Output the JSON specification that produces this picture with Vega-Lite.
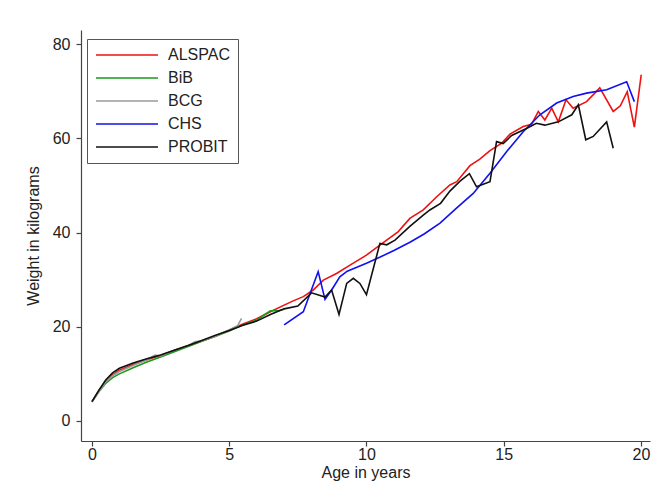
{
  "$schema": "https://vega.github.io/schema/vega-lite/v6.json",
  "width": 569,
  "height": 411,
  "autosize": {"type": "none"},
  "padding": {"left": 81, "top": 30, "right": 2, "bottom": 47},
  "background": "white",
  "config": {
    "view": {"stroke": null},
    "font": "Liberation Sans",
    "axis": {"grid": false, "domainColor": "#444", "tickColor": "#444", "labelColor": "#222", "titleColor": "#222", "labelFontSize": 16, "titleFontSize": 16, "titleFontWeight": "normal", "tickSize": 5, "domainWidth": 1.2, "tickWidth": 1.2}
  },
  "data": {"values": [
    {"s":"ALSPAC","age":0,"w":4.1},{"s":"ALSPAC","age":0.25,"w":6.5},{"s":"ALSPAC","age":0.5,"w":8.5},{"s":"ALSPAC","age":0.75,"w":9.8},{"s":"ALSPAC","age":1,"w":10.8},{"s":"ALSPAC","age":1.5,"w":12.0},{"s":"ALSPAC","age":2,"w":13.0},{"s":"ALSPAC","age":2.5,"w":13.9},{"s":"ALSPAC","age":3,"w":15.0},{"s":"ALSPAC","age":3.5,"w":15.9},{"s":"ALSPAC","age":4,"w":17.0},{"s":"ALSPAC","age":4.5,"w":18.0},{"s":"ALSPAC","age":5,"w":19.3},{"s":"ALSPAC","age":5.5,"w":20.6},{"s":"ALSPAC","age":6,"w":21.7},{"s":"ALSPAC","age":6.5,"w":23.2},{"s":"ALSPAC","age":7,"w":24.6},{"s":"ALSPAC","age":7.33,"w":25.5},{"s":"ALSPAC","age":7.7,"w":26.4},{"s":"ALSPAC","age":8.06,"w":27.8},{"s":"ALSPAC","age":8.43,"w":29.9},{"s":"ALSPAC","age":8.91,"w":31.3},{"s":"ALSPAC","age":9.4,"w":33.1},{"s":"ALSPAC","age":10,"w":35.2},{"s":"ALSPAC","age":10.5,"w":37.4},{"s":"ALSPAC","age":11.16,"w":40.2},{"s":"ALSPAC","age":11.58,"w":43.0},{"s":"ALSPAC","age":12.07,"w":44.8},{"s":"ALSPAC","age":12.56,"w":47.6},{"s":"ALSPAC","age":13.04,"w":50.1},{"s":"ALSPAC","age":13.29,"w":50.8},{"s":"ALSPAC","age":13.77,"w":54.2},{"s":"ALSPAC","age":14.13,"w":55.6},{"s":"ALSPAC","age":14.5,"w":57.4},{"s":"ALSPAC","age":14.93,"w":59.0},{"s":"ALSPAC","age":15.23,"w":60.9},{"s":"ALSPAC","age":15.71,"w":62.5},{"s":"ALSPAC","age":16.02,"w":63.0},{"s":"ALSPAC","age":16.26,"w":65.7},{"s":"ALSPAC","age":16.5,"w":63.9},{"s":"ALSPAC","age":16.75,"w":66.4},{"s":"ALSPAC","age":16.99,"w":63.5},{"s":"ALSPAC","age":17.27,"w":68.2},{"s":"ALSPAC","age":17.53,"w":66.4},{"s":"ALSPAC","age":18.02,"w":67.8},{"s":"ALSPAC","age":18.5,"w":70.7},{"s":"ALSPAC","age":18.99,"w":65.7},{"s":"ALSPAC","age":19.25,"w":66.9},{"s":"ALSPAC","age":19.5,"w":69.9},{"s":"ALSPAC","age":19.76,"w":62.4},{"s":"ALSPAC","age":20.01,"w":73.5},
    {"s":"BiB","age":0,"w":4.1},{"s":"BiB","age":0.25,"w":6.2},{"s":"BiB","age":0.5,"w":8.0},{"s":"BiB","age":0.75,"w":9.2},{"s":"BiB","age":1,"w":10.0},{"s":"BiB","age":1.5,"w":11.3},{"s":"BiB","age":2,"w":12.5},{"s":"BiB","age":2.5,"w":13.6},{"s":"BiB","age":3,"w":14.7},{"s":"BiB","age":3.5,"w":15.8},{"s":"BiB","age":4,"w":16.9},{"s":"BiB","age":4.5,"w":18.0},{"s":"BiB","age":5,"w":19.1},{"s":"BiB","age":5.5,"w":20.4},{"s":"BiB","age":6,"w":21.4},{"s":"BiB","age":6.3,"w":22.6},{"s":"BiB","age":6.5,"w":23.4},{"s":"BiB","age":6.8,"w":23.4},{"s":"BiB","age":7.0,"w":23.7},
    {"s":"BCG","age":0,"w":4.0},{"s":"BCG","age":0.25,"w":6.2},{"s":"BCG","age":0.5,"w":8.3},{"s":"BCG","age":0.75,"w":9.6},{"s":"BCG","age":1,"w":10.5},{"s":"BCG","age":1.5,"w":11.8},{"s":"BCG","age":2,"w":13.0},{"s":"BCG","age":2.3,"w":14.0},{"s":"BCG","age":2.5,"w":13.8},{"s":"BCG","age":3,"w":15.0},{"s":"BCG","age":3.5,"w":16.0},{"s":"BCG","age":3.75,"w":16.8},{"s":"BCG","age":4,"w":17.0},{"s":"BCG","age":4.5,"w":18.0},{"s":"BCG","age":5,"w":19.3},{"s":"BCG","age":5.3,"w":20.2},{"s":"BCG","age":5.45,"w":21.8},
    {"s":"CHS","age":7.0,"w":20.4},{"s":"CHS","age":7.7,"w":23.2},{"s":"CHS","age":8.24,"w":31.7},{"s":"CHS","age":8.49,"w":25.8},{"s":"CHS","age":8.73,"w":27.8},{"s":"CHS","age":9.03,"w":30.6},{"s":"CHS","age":9.3,"w":31.8},{"s":"CHS","age":10.0,"w":33.5},{"s":"CHS","age":10.5,"w":34.8},{"s":"CHS","age":11.0,"w":36.2},{"s":"CHS","age":11.6,"w":38.0},{"s":"CHS","age":12.1,"w":39.7},{"s":"CHS","age":12.68,"w":42.0},{"s":"CHS","age":13.28,"w":45.2},{"s":"CHS","age":13.89,"w":48.3},{"s":"CHS","age":14.5,"w":52.6},{"s":"CHS","age":15.11,"w":57.2},{"s":"CHS","age":15.71,"w":61.4},{"s":"CHS","age":16.32,"w":65.0},{"s":"CHS","age":16.93,"w":67.5},{"s":"CHS","age":17.53,"w":68.9},{"s":"CHS","age":18.02,"w":69.6},{"s":"CHS","age":18.75,"w":70.3},{"s":"CHS","age":19.48,"w":72.0},{"s":"CHS","age":19.76,"w":67.8},
    {"s":"PROBIT","age":0,"w":4.1},{"s":"PROBIT","age":0.25,"w":6.5},{"s":"PROBIT","age":0.5,"w":8.7},{"s":"PROBIT","age":0.75,"w":10.2},{"s":"PROBIT","age":1,"w":11.2},{"s":"PROBIT","age":1.5,"w":12.3},{"s":"PROBIT","age":2,"w":13.2},{"s":"PROBIT","age":2.5,"w":14.0},{"s":"PROBIT","age":3,"w":15.0},{"s":"PROBIT","age":3.5,"w":16.0},{"s":"PROBIT","age":4,"w":17.1},{"s":"PROBIT","age":4.5,"w":18.2},{"s":"PROBIT","age":5,"w":19.2},{"s":"PROBIT","age":5.5,"w":20.3},{"s":"PROBIT","age":6,"w":21.2},{"s":"PROBIT","age":6.5,"w":22.6},{"s":"PROBIT","age":7,"w":23.8},{"s":"PROBIT","age":7.5,"w":24.4},{"s":"PROBIT","age":8,"w":27.2},{"s":"PROBIT","age":8.49,"w":26.3},{"s":"PROBIT","age":8.73,"w":27.8},{"s":"PROBIT","age":9.0,"w":22.6},{"s":"PROBIT","age":9.28,"w":29.2},{"s":"PROBIT","age":9.52,"w":30.3},{"s":"PROBIT","age":9.76,"w":29.2},{"s":"PROBIT","age":10.0,"w":26.8},{"s":"PROBIT","age":10.49,"w":37.7},{"s":"PROBIT","age":10.74,"w":37.4},{"s":"PROBIT","age":11.04,"w":38.4},{"s":"PROBIT","age":11.58,"w":41.3},{"s":"PROBIT","age":12.07,"w":43.7},{"s":"PROBIT","age":12.31,"w":44.8},{"s":"PROBIT","age":12.7,"w":46.2},{"s":"PROBIT","age":13.04,"w":48.8},{"s":"PROBIT","age":13.41,"w":50.9},{"s":"PROBIT","age":13.75,"w":52.5},{"s":"PROBIT","age":14.01,"w":49.7},{"s":"PROBIT","age":14.5,"w":50.8},{"s":"PROBIT","age":14.74,"w":59.3},{"s":"PROBIT","age":14.98,"w":58.9},{"s":"PROBIT","age":15.29,"w":60.6},{"s":"PROBIT","age":15.83,"w":62.1},{"s":"PROBIT","age":16.19,"w":63.2},{"s":"PROBIT","age":16.5,"w":62.8},{"s":"PROBIT","age":16.99,"w":63.5},{"s":"PROBIT","age":17.48,"w":65.0},{"s":"PROBIT","age":17.72,"w":67.1},{"s":"PROBIT","age":17.99,"w":59.7},{"s":"PROBIT","age":18.26,"w":60.4},{"s":"PROBIT","age":18.75,"w":63.5},{"s":"PROBIT","age":18.99,"w":57.9}
  ]},
  "mark": {"type": "line", "strokeWidth": 1.6, "clip": true},
  "encoding": {
    "x": {"field": "age", "type": "quantitative", "title": "Age in years",
      "scale": {"domain": [-0.4, 20.33], "nice": false, "zero": false},
      "axis": {"values": [0, 5, 10, 15, 20], "labelPadding": 0, "titlePadding": 2, "labelFlush": false}},
    "y": {"field": "w", "type": "quantitative", "title": "Weight in kilograms",
      "scale": {"domain": [-4.25, 83], "nice": false, "zero": false},
      "axis": {"values": [0, 20, 40, 60, 80], "labelPadding": 6, "titlePadding": 11, "labelFlush": false}},
    "color": {"field": "s", "type": "nominal",
      "sort": ["ALSPAC", "BiB", "BCG", "CHS", "PROBIT"],
      "scale": {"domain": ["ALSPAC", "BiB", "BCG", "CHS", "PROBIT"], "range": ["#f01010", "#1a9a1a", "#9a9a9a", "#1010f0", "#111111"]},
      "legend": {"title": null, "orient": "none", "legendX": 6, "legendY": 9,
        "direction": "vertical",
        "strokeColor": "#555", "fillColor": "white", "padding": 8,
        "symbolType": "M-5,0H5", "symbolSize": 154, "symbolStrokeWidth": 1.6, "symbolOffset": 24,
        "labelOffset": 33, "labelFontSize": 16, "labelColor": "#222", "rowPadding": 7}}
  }
}
